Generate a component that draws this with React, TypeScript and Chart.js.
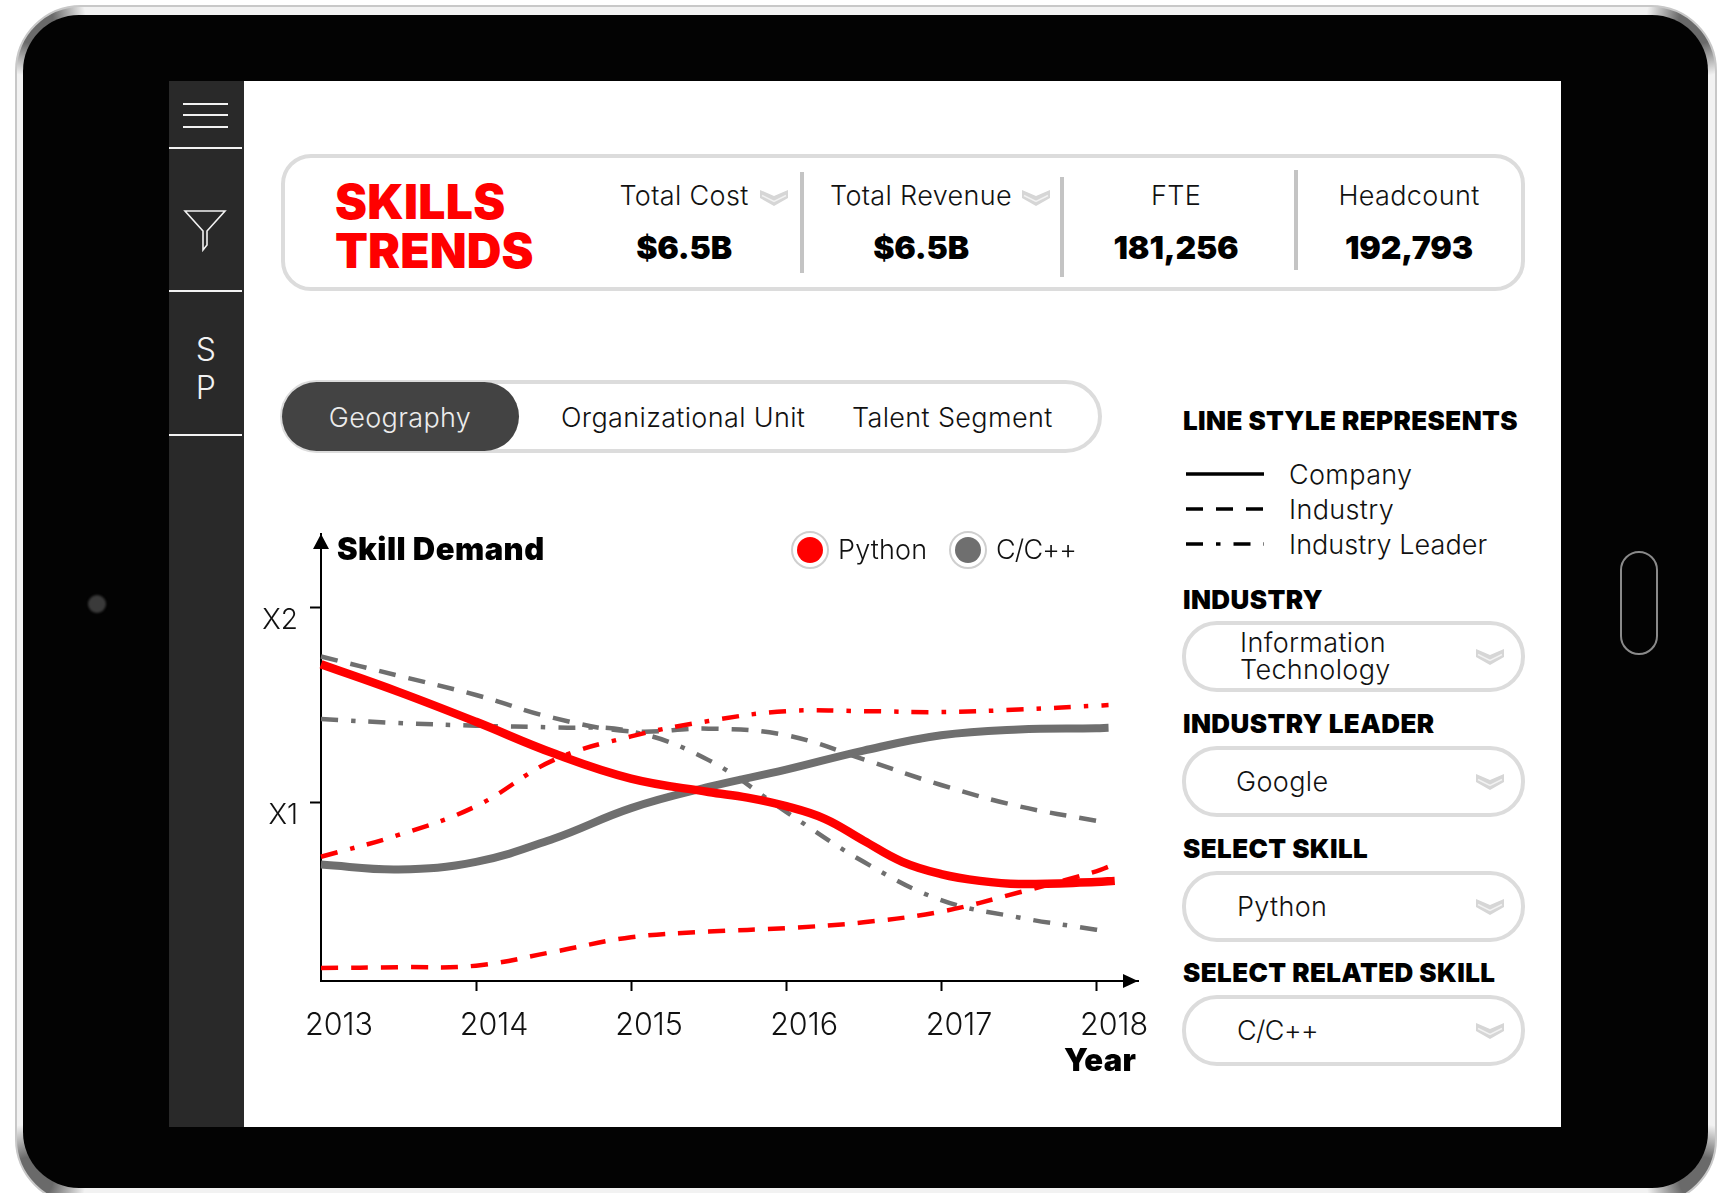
import React, { useEffect, useRef } from "react";
import { Chart, registerables } from "chart.js";

Chart.register(...registerables);

const FONT = "Inter, 'Noto Sans', sans-serif";

const YEARS = [2013, 2014, 2015, 2016, 2017, 2018];
const Y_TICKS = [1, 2];
const Y_LABELS: Record<number, string> = { 1: "X1", 2: "X2" };

const HALF_YEARS = [2013, 2013.5, 2014, 2014.5, 2015, 2015.5, 2016, 2016.5, 2017, 2017.5, 2018];

// The company Python curve bends sharply after 2015, so it is read at finer steps there.
const pythonCompanyYears = [2013, 2013.5, 2014, 2014.5, 2015, 2015.5, 2015.75, 2016, 2016.25, 2016.5, 2016.75, 2017, 2017.25, 2017.5, 2018, 2018.12];
const pythonCompany = [1.71, 1.568, 1.414, 1.252, 1.122, 1.053, 1.024, 0.98, 0.915, 0.803, 0.694, 0.631, 0.596, 0.58, 0.59, 0.596];

const cppCompany = [0.68, 0.655, 0.694, 0.813, 0.97, 1.079, 1.168, 1.266, 1.345, 1.375, 1.381, 1.383];
const pythonIndustry = [0.148, 0.152, 0.16, 0.231, 0.306, 0.335, 0.353, 0.383, 0.438, 0.536, 0.645, 0.669];
const pythonLeader = [0.72, 0.832, 0.98, 1.217, 1.339, 1.418, 1.469, 1.469, 1.464, 1.477, 1.497, 1.5];
const cppIndustry = [1.75, 1.651, 1.552, 1.434, 1.365, 1.379, 1.345, 1.221, 1.089, 0.98, 0.905];
const cppLeader = [1.428, 1.408, 1.394, 1.385, 1.365, 1.217, 0.951, 0.694, 0.497, 0.408, 0.345, 0.335];

const SERIES_END = 2018.08;

const RED = "#ff0000";
const GRAY = "#6f6f6f";
const DASH = [17, 13];
const DASH_DOT = [17, 13, 4.5, 13];

const METRICS = [
  { label: "Total Cost", value: "$6.5B", x: 684, chevronX: 760 },
  { label: "Total Revenue", value: "$6.5B", x: 921, chevronX: 1022 },
  { label: "FTE", value: "181,256", x: 1176 },
  { label: "Headcount", value: "192,793", x: 1409 },
];
const DIVIDERS = [
  { x: 800, top: 172, bottom: 273 },
  { x: 1060, top: 177, bottom: 277 },
  { x: 1294, top: 170, bottom: 270 },
];
const SEGMENTS = [
  { label: "Organizational Unit", x: 561 },
  { label: "Talent Segment", x: 852 },
];
const LINE_STYLES = [
  { label: "Company", y: 474, dash: "", spacing: 0.35 },
  { label: "Industry", y: 509, dash: DASH.join(" "), spacing: 0.35 },
  { label: "Industry Leader", y: 544, dash: DASH_DOT.join(" "), spacing: 0.05 },
];
const SELECTORS = [
  { heading: "INDUSTRY", headingY: 600, top: 621, lines: ["Information", "Technology"], textX: 1240 },
  { heading: "INDUSTRY LEADER", headingY: 724, top: 746, lines: ["Google"], textX: 1236 },
  { heading: "SELECT SKILL", headingY: 849, top: 871, lines: ["Python"], textX: 1237 },
  { heading: "SELECT RELATED SKILL", headingY: 973, top: 995, lines: ["C/C++"], textX: 1237 },
];

// Pairs a series with its x positions; a series with one extra value runs on to its end year.
function points(values: number[], endYear: number) {
  return values.map((y, i) => ({ x: i < HALF_YEARS.length ? HALF_YEARS[i] : endYear, y }));
}

const axisArrows = {
  id: "axisArrows",
  afterDraw(chart: any) {
    const { ctx, chartArea } = chart;
    const { left, top, right, bottom } = chartArea;
    ctx.save();
    ctx.fillStyle = "#000";
    ctx.beginPath();
    ctx.moveTo(left, top);
    ctx.lineTo(left - 8, top + 15);
    ctx.lineTo(left + 8, top + 15);
    ctx.closePath();
    ctx.fill();
    ctx.beginPath();
    ctx.moveTo(right, bottom);
    ctx.lineTo(right - 15, bottom - 7);
    ctx.lineTo(right - 15, bottom + 7);
    ctx.closePath();
    ctx.fill();
    ctx.restore();
  },
};

function lineDataset(label: string, data: any[], color: string, width: number, dash: number[] = []) {
  return {
    label,
    data,
    borderColor: color,
    borderWidth: width,
    borderDash: dash,
    borderCapStyle: "butt" as const,
    tension: 0.4,
    pointRadius: 0,
    clip: false as const,
  };
}

function DemandChart() {
  const ref = useRef<HTMLCanvasElement | null>(null);
  useEffect(() => {
    const chart = new Chart(ref.current as HTMLCanvasElement, {
      type: "line",
      plugins: [axisArrows],
      data: {
        datasets: [
          lineDataset(
            "Python Company",
            pythonCompany.map((y, i) => ({ x: pythonCompanyYears[i], y })),
            RED,
            8.5,
          ),
          lineDataset("C/C++ Company", points(cppCompany, SERIES_END), GRAY, 8),
          lineDataset("Python Industry", points(pythonIndustry, SERIES_END), RED, 4.5, DASH),
          lineDataset("Python Industry Leader", points(pythonLeader, SERIES_END), RED, 4.5, DASH_DOT),
          lineDataset("C/C++ Industry", points(cppIndustry, SERIES_END), GRAY, 4.5, DASH),
          lineDataset("C/C++ Industry Leader", points(cppLeader, SERIES_END), GRAY, 4.5, DASH_DOT),
        ],
      },
      options: {
        responsive: false,
        animation: false,
        devicePixelRatio: 1,
        layout: { autoPadding: false, padding: { top: 14, right: 22, left: 0, bottom: 0 } },
        plugins: { legend: { display: false }, title: { display: false }, tooltip: { enabled: false } },
        scales: {
          x: {
            type: "linear",
            min: 2013,
            max: 2018.27,
            afterBuildTicks: (s: any) => {
              s.ticks = YEARS.map((value) => ({ value }));
            },
            afterFit: (s: any) => {
              s.height = 109;
              s.paddingLeft = 0;
              s.paddingRight = 0;
            },
            border: { color: "#000", width: 2 },
            grid: {
              drawOnChartArea: false,
              tickLength: 10,
              tickWidth: 2,
              tickColor: (c: any) => (c.tick && c.tick.value === YEARS[0] ? "transparent" : "#000"),
            },
            ticks: {
              autoSkip: false,
              maxRotation: 0,
              padding: 17,
              labelOffset: 18,
              color: "#111",
              font: { family: FONT, size: 30.5, weight: 300 },
              callback: (v: any) => String(v),
            },
          },
          y: {
            type: "linear",
            min: 0.081,
            max: 2.38,
            afterBuildTicks: (s: any) => {
              s.ticks = Y_TICKS.map((value) => ({ value }));
            },
            afterFit: (s: any) => {
              s.width = 81;
              s.paddingTop = 0;
              s.paddingBottom = 0;
            },
            border: { color: "#000", width: 2 },
            grid: { drawOnChartArea: false, tickLength: 11, tickWidth: 2, tickColor: "#000" },
            ticks: {
              padding: 12,
              labelOffset: 13,
              color: "#111",
              font: { family: FONT, size: 28, weight: 300 },
              callback: (v: any) => Y_LABELS[v as number] ?? "",
            },
          },
        },
      },
    } as any);
    return () => chart.destroy();
  }, []);
  return (
    <canvas
      ref={ref}
      width={920}
      height={570}
      style={{ position: "absolute", left: 240, top: 520, width: 920, height: 570 }}
    />
  );
}

const abs = (s: React.CSSProperties): React.CSSProperties => ({ position: "absolute", ...s });

function Text(props: {
  x: number;
  y: number;
  size: number;
  weight?: number;
  color?: string;
  center?: boolean;
  spacing?: number;
  children: React.ReactNode;
}) {
  const { x, y, size, weight = 300, color = "#111", center, spacing = 0.35, children } = props;
  return (
    <div
      style={abs({
        left: x,
        top: y,
        transform: center ? "translate(-50%,-50%)" : "translateY(-50%)",
        fontFamily: FONT,
        fontSize: size,
        fontWeight: weight,
        color,
        letterSpacing: spacing,
        lineHeight: 1,
        whiteSpace: "nowrap",
      })}
    >
      {children}
    </div>
  );
}

function Chevron({ x, y }: { x: number; y: number }) {
  return (
    <svg width={28} height={16} viewBox="0 0 28 16" style={abs({ left: x, top: y })}>
      <path d="M0 0 L14 6 L28 0 L28 8 L14 16 L0 8 Z" fill="#d6d6d6" />
      <path d="M2 5.5 L14 11.5 L26 5.5" fill="none" stroke="#f2f2f2" strokeWidth={1.5} />
    </svg>
  );
}

// Soft darkening of the bezel edge around one rounded corner.
const cornerShade = (x: number, y: number) =>
  `radial-gradient(circle at ${x}px ${y}px, #6a6a6a 0 22px, transparent 55px)`;

export default function App() {
  return (
    <div style={{ position: "fixed", left: 0, top: 0, width: 1726, height: 1193, overflow: "hidden", background: "#fff" }}>
      {/* tablet body */}
      <div
        style={abs({
          left: 15,
          top: 5,
          width: 1702,
          height: 1200,
          boxSizing: "border-box",
          border: "2px solid #c8c8c8",
          borderRadius: 66,
          background: [
            cornerShade(14, 14),
            cornerShade(1684, 14),
            cornerShade(14, 1172),
            cornerShade(1684, 1172),
            "#f2f2f2",
          ].join(", "),
        })}
      />
      <div style={abs({ left: 23, top: 15, width: 1685, height: 1173, borderRadius: 56, background: "#030303" })} />
      <div style={abs({ left: 88, top: 595, width: 18, height: 18, borderRadius: 9, background: "#3a3a3a", filter: "blur(1px)" })} />
      <div style={abs({ left: 1620, top: 551, width: 38, height: 104, boxSizing: "border-box", borderRadius: 19, border: "2px solid #8a8a8a" })} />

      {/* screen */}
      <div style={abs({ left: 244, top: 81, width: 1317, height: 1046, background: "#fff" })} />
      <div style={abs({ left: 169, top: 81, width: 75, height: 1046, background: "#292929" })} />
      {[104, 115, 127].map((y) => (
        <div key={y} style={abs({ left: 183, top: y - 1, width: 45, height: 2, background: "#f2f2f2" })} />
      ))}
      {[148, 291, 435].map((y) => (
        <div key={y} style={abs({ left: 169, top: y - 1, width: 73, height: 2, background: "#f2f2f2" })} />
      ))}
      <svg width={60} height={60} style={abs({ left: 175, top: 200 })}>
        <path d="M10 11 H50 L32 31 V45 L28 50 V31 Z" fill="none" stroke="#f2f2f2" strokeWidth={1.6} />
      </svg>
      <Text x={206} y={350} size={32} color="#f2f2f2" center>S</Text>
      <Text x={206} y={388} size={32} color="#f2f2f2" center>P</Text>

      {/* header card */}
      <div style={abs({ left: 281, top: 154, width: 1244, height: 137, boxSizing: "border-box", border: "4px solid #dcdcdc", borderRadius: 30 })} />
      <Text x={335} y={202} size={48} weight={900} color={RED} spacing={0.3}>SKILLS</Text>
      <Text x={335} y={251} size={48} weight={900} color={RED} spacing={0.1}>TRENDS</Text>
      {METRICS.map((m) => (
        <React.Fragment key={m.label}>
          <Text x={m.x} y={195} size={27} center>{m.label}</Text>
          <Text x={m.x} y={248} size={32} weight={900} color="#000" center spacing={-0.2}>{m.value}</Text>
          {m.chevronX ? <Chevron x={m.chevronX} y={190} /> : null}
        </React.Fragment>
      ))}
      {DIVIDERS.map((d) => (
        <div key={d.x} style={abs({ left: d.x, top: d.top, width: 4, height: d.bottom - d.top, background: "#c4c4c4" })} />
      ))}

      {/* segment switch */}
      <div style={abs({ left: 280, top: 380, width: 822, height: 73, boxSizing: "border-box", border: "4px solid #dcdcdc", borderRadius: 37 })} />
      <div style={abs({ left: 282, top: 382, width: 237, height: 69, borderRadius: 35, background: "#434343" })} />
      <Text x={400} y={417} size={27} color="#ececec" center>Geography</Text>
      {SEGMENTS.map((s) => (
        <Text key={s.label} x={s.x} y={417} size={27}>{s.label}</Text>
      ))}

      {/* chart with its heading and series key */}
      <DemandChart />
      <Text x={337} y={548} size={31} weight={900} color="#000" spacing={0.45}>Skill Demand</Text>
      {[
        { cx: 810, fill: RED, label: "Python", tx: 838, spacing: 0.2 },
        { cx: 968, fill: GRAY, label: "C/C++", tx: 996, spacing: -0.8 },
      ].map((k) => (
        <React.Fragment key={k.label}>
          <div style={abs({ left: k.cx - 19, top: 531, width: 38, height: 38, boxSizing: "border-box", borderRadius: 19, border: "2px solid #cfcfcf", background: "#fff" })} />
          <div style={abs({ left: k.cx - 13, top: 537, width: 26, height: 26, borderRadius: 13, background: k.fill })} />
          <Text x={k.tx} y={549} size={27} spacing={k.spacing}>{k.label}</Text>
        </React.Fragment>
      ))}
      <Text x={1064} y={1059} size={31} weight={900} color="#000" spacing={0.4}>Year</Text>

      {/* line style key */}
      <Text x={1183} y={421} size={26} weight={900} color="#000" spacing={0.4}>LINE STYLE REPRESENTS</Text>
      <svg width={90} height={100} style={abs({ left: 1180, top: 460 })}>
        {LINE_STYLES.map((s) => (
          <line key={s.label} x1={6} x2={84} y1={s.y - 460} y2={s.y - 460} stroke="#000" strokeWidth={3.5} strokeDasharray={s.dash} />
        ))}
      </svg>
      {LINE_STYLES.map((s) => (
        <Text key={s.label} x={1289} y={s.y} size={27} spacing={s.spacing}>{s.label}</Text>
      ))}

      {/* selectors */}
      {SELECTORS.map((s) => (
        <React.Fragment key={s.heading}>
          <Text x={1183} y={s.headingY} size={26} weight={900} color="#000" spacing={0.4}>{s.heading}</Text>
          <div style={abs({ left: 1182, top: s.top, width: 343, height: 71, boxSizing: "border-box", border: "4px solid #dcdcdc", borderRadius: 35 })} />
          {s.lines.map((line, i) => (
            <Text
              key={line}
              x={s.textX}
              y={s.lines.length > 1 ? s.top + 21 + i * 27 : s.top + 35}
              size={27}
              spacing={line === "C/C++" ? -0.6 : 0.35}
            >
              {line}
            </Text>
          ))}
          <Chevron x={1476} y={s.top + 28} />
        </React.Fragment>
      ))}
    </div>
  );
}
